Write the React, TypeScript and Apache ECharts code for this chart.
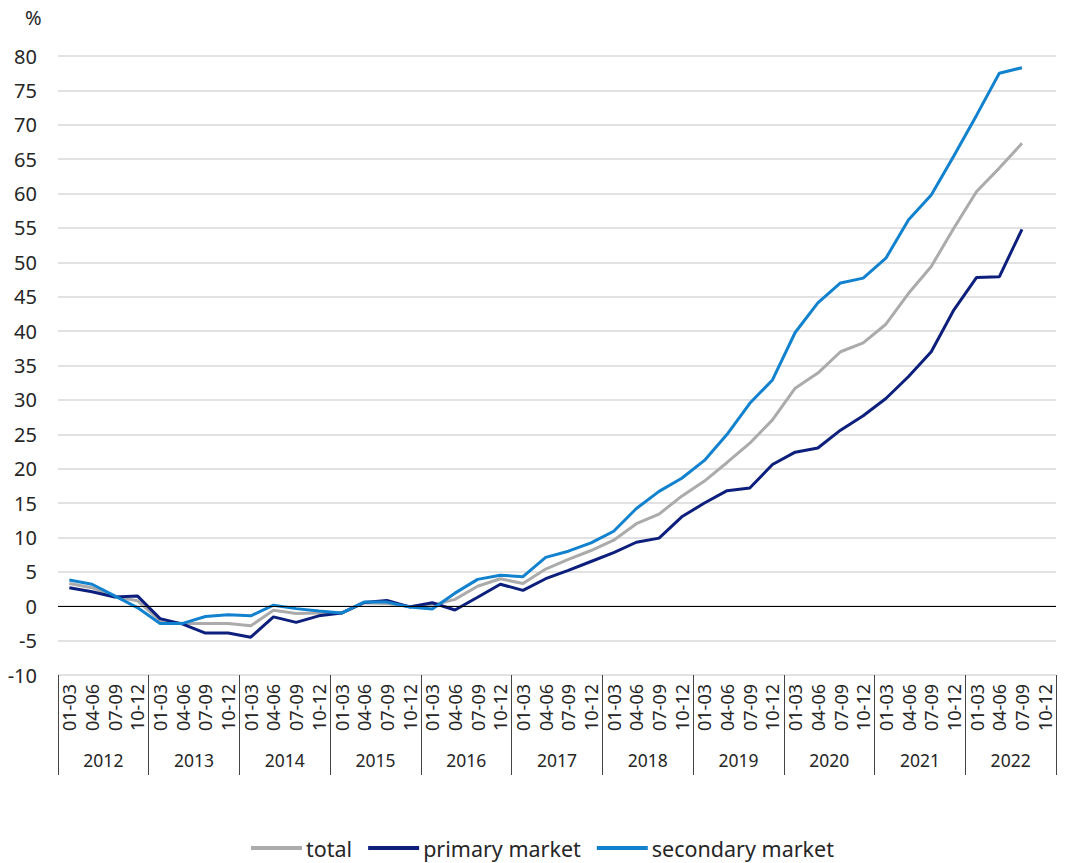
import React, { useEffect, useRef } from "react";
import * as echarts from "echarts";

const years = ["2012", "2013", "2014", "2015", "2016", "2017", "2018", "2019", "2020", "2021", "2022"];
const quarterLabels = ["01-03", "04-06", "07-09", "10-12"];
const categories: string[] = years.flatMap((y) => quarterLabels.map((q) => `${q} ${y}`));

const total: (number | null)[] = [
  3.3, 2.7, 1.4, 0.8,
  -2.1, -2.5, -2.5, -2.5,
  -2.85, -0.6, -1.05, -1.0,
  -1.0, 0.5, 0.4, -0.05,
  0.15, 1.0, 2.9, 4.0,
  3.3, 5.4, 6.8, 8.1,
  9.6, 12.0, 13.4, 16.0,
  18.2, 20.9, 23.7, 27.1,
  31.7, 33.9, 37.0, 38.3,
  41.0, 45.5, 49.4, 55.0,
  60.3, 63.7, 67.3, null,
];
const primary: (number | null)[] = [
  2.7, 2.1, 1.35, 1.5,
  -1.8, -2.6, -3.9, -3.9,
  -4.5, -1.55, -2.35, -1.4,
  -1.0, 0.55, 0.85, -0.1,
  0.5, -0.55, 1.3, 3.2,
  2.3, 4.0, 5.2, 6.5,
  7.8, 9.3, 9.9, 13.0,
  15.0, 16.8, 17.2, 20.6,
  22.4, 23.0, 25.6, 27.7,
  30.2, 33.4, 37.0, 43.1,
  47.8, 47.9, 54.8, null,
];
const secondary: (number | null)[] = [
  3.8, 3.2, 1.5, -0.2,
  -2.5, -2.5, -1.5, -1.25,
  -1.4, 0.15, -0.35, -0.7,
  -1.0, 0.6, 0.6, -0.1,
  -0.4, 1.9, 3.9, 4.5,
  4.3, 7.1, 8.0, 9.2,
  10.9, 14.2, 16.7, 18.6,
  21.2, 25.0, 29.5, 32.9,
  39.8, 44.1, 47.0, 47.7,
  50.6, 56.2, 59.8, 65.5,
  71.4, 77.5, 78.3, null,
];

const FONT = "'Noto Sans', sans-serif";
const TEXT = "#262626";

export default function App() {
  const ref = useRef<HTMLDivElement>(null);
  useEffect(() => {
    document.body.style.margin = "0";
    if (!ref.current) return;
    const chart = echarts.init(ref.current, undefined, { renderer: "svg" });
    chart.setOption({
      animation: false,
      textStyle: { fontFamily: FONT },
      grid: { left: 58, right: 16, top: 56, bottom: 188, containLabel: false },
      graphic: [
        { type: "text", left: 25, top: 7, style: { text: "%", fontSize: 20, fill: TEXT, fontFamily: FONT } },
      ],
      legend: {
        top: 832,
        left: 246,
        icon: "rect",
        itemWidth: 51,
        itemHeight: 4,
        itemGap: 16,
        textStyle: { fontSize: 21.5, color: TEXT, fontFamily: FONT, padding: [0, 0, 0, -1] },
        data: ["total", "primary market", "secondary market"],
      },
      xAxis: [
        {
          type: "category",
          data: categories,
          boundaryGap: true,
          axisLine: { show: false, onZero: false },
          axisTick: { show: false },
          axisLabel: {
            rotate: 90,
            margin: 9,
            fontSize: 18,
            color: TEXT,
            interval: 0,
            fontFamily: FONT,
            formatter: (v: string) => v.split(" ")[0],
          },
        },
        {
          type: "category",
          data: years,
          position: "bottom",
          boundaryGap: true,
          axisLine: { show: false, onZero: false },
          axisTick: { show: true, length: 100, interval: 0, lineStyle: { color: "#444444", width: 1 } },
          axisLabel: { margin: 76, fontSize: 17.5, color: TEXT, interval: 0, fontFamily: FONT },
          splitLine: { show: false },
        },
      ],
      yAxis: {
        type: "value",
        min: -10,
        max: 80,
        interval: 5,
        axisLine: { show: false },
        axisTick: { show: false },
        axisLabel: { fontSize: 20, color: TEXT, margin: 21, fontFamily: FONT },
        splitLine: { lineStyle: { color: "#d9d9d9", width: 1.5 } },
      },
      series: [
        {
          name: "total",
          type: "line",
          data: total,
          symbol: "none",
          lineStyle: { color: "#ababab", width: 3 },
          itemStyle: { color: "#ababab" },
          markLine: {
            silent: true,
            symbol: "none",
            label: { show: false },
            lineStyle: { color: "#000000", width: 1.2, type: "solid" },
            data: [{ yAxis: 0 }],
          },
        },
        {
          name: "primary market",
          type: "line",
          data: primary,
          symbol: "none",
          lineStyle: { color: "#0d1f7c", width: 3 },
          itemStyle: { color: "#0d1f7c" },
        },
        {
          name: "secondary market",
          type: "line",
          data: secondary,
          symbol: "none",
          lineStyle: { color: "#1282cf", width: 3 },
          itemStyle: { color: "#1282cf" },
        },
      ],
    });
    return () => chart.dispose();
  }, []);
  return <div ref={ref} style={{ width: 1072, height: 863 }} />;
}
